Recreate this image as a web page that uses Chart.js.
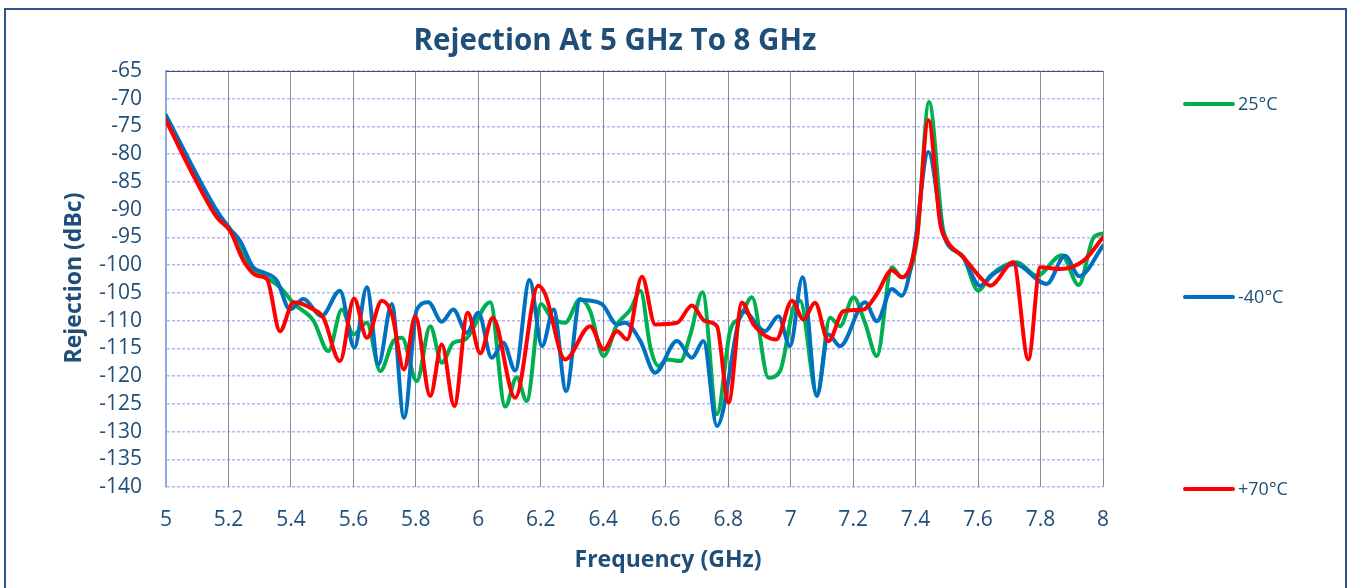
<!DOCTYPE html>
<html>
<head>
<meta charset="utf-8">
<script src="https://cdn.jsdelivr.net/npm/chart.js@4.4.1/dist/chart.umd.min.js"></script>
<style>
  html, body { margin: 0; padding: 0; background: #fff; overflow: hidden; }
  canvas { display: block; }
</style>
</head>
<body>
<canvas id="myChart" width="1349" height="588" style="width:1349px;height:588px"></canvas>
<script>
// rejection curves (GHz / dBc)
const freq25 = [5.0, 5.087, 5.163, 5.205, 5.269, 5.312, 5.365, 5.41, 5.472, 5.52, 5.563, 5.6, 5.643, 5.686, 5.728, 5.755, 5.803, 5.846, 5.883, 5.92, 5.958, 6.038, 6.086, 6.123, 6.155, 6.201, 6.23, 6.278, 6.326, 6.358, 6.401, 6.444, 6.487, 6.519, 6.551, 6.577, 6.604, 6.647, 6.679, 6.718, 6.764, 6.806, 6.838, 6.876, 6.929, 6.966, 7.009, 7.03, 7.084, 7.126, 7.158, 7.201, 7.238, 7.276, 7.324, 7.356, 7.404, 7.443, 7.489, 7.552, 7.601, 7.639, 7.724, 7.788, 7.868, 7.922, 7.97, 8.0];
const rej25 = [-73.5, -83.5, -90.5, -93.5, -100.4, -101.9, -104, -107, -110, -115.5, -108, -112.5, -110.4, -119.1, -113.7, -113.1, -120.9, -111, -117.6, -114, -113.4, -106.7, -125.5, -120.2, -124.5, -107, -109.2, -110.4, -106.1, -108.3, -116.4, -110.7, -108, -104.6, -114.9, -118.2, -117, -117.3, -112.5, -104.9, -126.9, -111.9, -109.5, -105.8, -120.3, -119.1, -107.6, -106.4, -123.3, -109.5, -111, -105.8, -110.4, -116.4, -100.4, -102.2, -95.6, -70.6, -93.8, -98.5, -104.6, -101.9, -99.5, -101.9, -98.2, -103.6, -95, -94.3];

const freqM40 = [5.0, 5.163, 5.205, 5.237, 5.279, 5.312, 5.355, 5.397, 5.44, 5.498, 5.557, 5.603, 5.643, 5.68, 5.723, 5.762, 5.803, 5.84, 5.883, 5.92, 5.963, 6.0, 6.043, 6.08, 6.118, 6.164, 6.204, 6.241, 6.281, 6.326, 6.395, 6.444, 6.47, 6.519, 6.566, 6.636, 6.684, 6.721, 6.764, 6.849, 6.918, 6.961, 6.998, 7.038, 7.084, 7.121, 7.158, 7.238, 7.276, 7.324, 7.356, 7.393, 7.441, 7.489, 7.552, 7.606, 7.649, 7.718, 7.82, 7.878, 7.924, 8.0];
const rejM40 = [-73, -90.2, -93.5, -95.6, -100.4, -101.3, -102.8, -108, -106.1, -109.2, -104.6, -114.9, -104, -117.9, -107, -127.5, -108, -106.7, -110.2, -108, -112.2, -108.6, -116.7, -114, -119, -102.7, -114.6, -108, -122.7, -106.3, -107, -110.7, -110.4, -113.7, -119.4, -113.7, -116.7, -113.7, -129, -108.3, -111.9, -109.2, -114.6, -102.2, -123.6, -112.5, -114.6, -106.7, -110.1, -104.3, -105.5, -98, -79.6, -94.4, -98.5, -103.7, -101.6, -99.8, -103.4, -98.3, -102, -96.5];

const freqP70 = [5.0, 5.088, 5.163, 5.205, 5.248, 5.291, 5.323, 5.365, 5.408, 5.472, 5.504, 5.557, 5.602, 5.643, 5.691, 5.723, 5.762, 5.798, 5.846, 5.883, 5.923, 5.966, 6.006, 6.046, 6.118, 6.192, 6.214, 6.278, 6.358, 6.401, 6.444, 6.476, 6.524, 6.566, 6.636, 6.684, 6.726, 6.764, 6.801, 6.844, 6.881, 6.954, 7.004, 7.041, 7.078, 7.121, 7.169, 7.233, 7.276, 7.324, 7.356, 7.404, 7.441, 7.479, 7.5, 7.553, 7.617, 7.639, 7.713, 7.761, 7.799, 7.863, 7.938, 8.0];
const rejP70 = [-73.9, -83.9, -91.4, -93.8, -99.2, -101.9, -102.5, -111.9, -106.7, -108, -109.5, -117.3, -106, -113.1, -106.4, -108.8, -118.8, -109.2, -123.6, -114.3, -125.4, -108.6, -115.9, -109.5, -123.9, -103.7, -105.2, -117, -111, -115.2, -111.9, -113.4, -102.1, -110.7, -110.4, -107.3, -110.1, -111, -124.8, -106.8, -110.7, -113.4, -106.4, -109.8, -106.8, -113.7, -108.3, -108, -105.2, -100.9, -102.2, -95, -73.9, -92.6, -95.6, -98.6, -102.8, -103.7, -99.5, -117, -100.4, -100.7, -99.2, -95];

const seriesNames = ['25°C', '-40°C', '+70°C'];
const seriesColors = ['#00B050', '#0070C0', '#FF0000'];
const xTicks = [5, 5.2, 5.4, 5.6, 5.8, 6, 6.2, 6.4, 6.6, 6.8, 7, 7.2, 7.4, 7.6, 7.8, 8];
const yTicks = [-140, -135, -130, -125, -120, -115, -110, -105, -100, -95, -90, -85, -80, -75, -70, -65];

const textBlue = '#1F4E79';

function pts(xs, ys) {
    return xs.map((x, i) => ({x: x, y: ys[i]}));
}

// titles, frame and the spread-out legend, drawn on the canvas
const decor = {
    id: 'decor',
    beforeDraw(chart) {
        const ctx = chart.ctx;
        ctx.save();
        ctx.fillStyle = '#fff';
        ctx.fillRect(0, 0, chart.width, chart.height);
        ctx.restore();
    },
    afterDraw(chart) {
        const ctx = chart.ctx;
        const a = chart.chartArea;
        ctx.save();
        // top edge of plot
        ctx.strokeStyle = '#44546A';
        ctx.lineWidth = 1;
        ctx.beginPath();
        ctx.moveTo(a.left, Math.round(a.top) + 0.5);
        ctx.lineTo(a.right, Math.round(a.top) + 0.5);
        ctx.stroke();

        // outer frame
        ctx.strokeStyle = '#2F528F';
        ctx.lineWidth = 2;
        ctx.strokeRect(5, 9, 1341, 600);

        ctx.fillStyle = textBlue;
        ctx.textAlign = 'center';
        ctx.textBaseline = 'middle';
        ctx.font = 'bold 29.5px "Open Sans"';
        ctx.fillText('Rejection At 5 GHz To 8 GHz', 615, 42);

        ctx.font = 'bold 23px "Open Sans"';
        ctx.fillText('Frequency (GHz)', 668, 560);

        ctx.save();
        ctx.translate(74, 278);
        ctx.rotate(-Math.PI / 2);
        ctx.fillText('Rejection (dBc)', 0, 0);
        ctx.restore();

        // legend
        const legendY = [104, 297, 489];
        ctx.font = '18px "Open Sans"';
        ctx.textAlign = 'left';
        seriesNames.forEach((name, i) => {
            ctx.strokeStyle = seriesColors[i];
            ctx.lineWidth = 4;
            ctx.lineCap = 'round';
            ctx.beginPath();
            ctx.moveTo(1185, legendY[i]);
            ctx.lineTo(1233, legendY[i]);
            ctx.stroke();
            ctx.fillStyle = textBlue;
            ctx.fillText(name, 1238, legendY[i] + 1);
        });
        ctx.restore();
    }
};

const ctx = document.getElementById('myChart').getContext('2d');
const chart = new Chart(ctx, {
    type: 'line',
    data: {
        datasets: [
            {label: seriesNames[0], data: pts(freq25, rej25), borderColor: seriesColors[0], order: 2},
            {label: seriesNames[1], data: pts(freqM40, rejM40), borderColor: seriesColors[1], order: 1},
            {label: seriesNames[2], data: pts(freqP70, rejP70), borderColor: seriesColors[2], order: 0}
        ]
    },
    options: {
        responsive: false,
        animation: false,
        devicePixelRatio: 1,
        layout: {padding: {top: 71, right: 246, bottom: 0, left: 0}},
        elements: {
            point: {radius: 0},
            line: {borderWidth: 4, cubicInterpolationMode: 'monotone', fill: false, borderCapStyle: 'round', borderJoinStyle: 'round'}
        },
        plugins: {
            legend: {display: false},
            title: {display: false},
            tooltip: {enabled: false}
        },
        scales: {
            x: {
                type: 'linear',
                min: 5,
                max: 8,
                afterBuildTicks: s => { s.ticks = xTicks.map(v => ({value: v})); },
                afterFit: s => { s.height = 101; },
                grid: {color: '#8C8C8C', lineWidth: 1, drawTicks: false},
                border: {display: false},
                ticks: {
                    color: textBlue,
                    font: {family: 'Open Sans', size: 21},
                    padding: 20,
                    maxRotation: 0,
                    autoSkip: false,
                    callback: v => String(v)
                }
            },
            y: {
                min: -140,
                max: -65,
                afterBuildTicks: s => { s.ticks = yTicks.map(v => ({value: v})); },
                afterFit: s => { s.width = 166; },
                grid: {color: 'rgba(110,110,240,0.5)', lineWidth: 1.5, drawTicks: false},
                border: {display: true, color: '#8FAADC', width: 2, dash: [3, 2]},
                ticks: {
                    color: textBlue,
                    font: {family: 'Open Sans', size: 21},
                    padding: 24,
                    autoSkip: false,
                    callback: v => String(v)
                }
            }
        }
    },
    plugins: [decor]
});
</script>
</body>
</html>
